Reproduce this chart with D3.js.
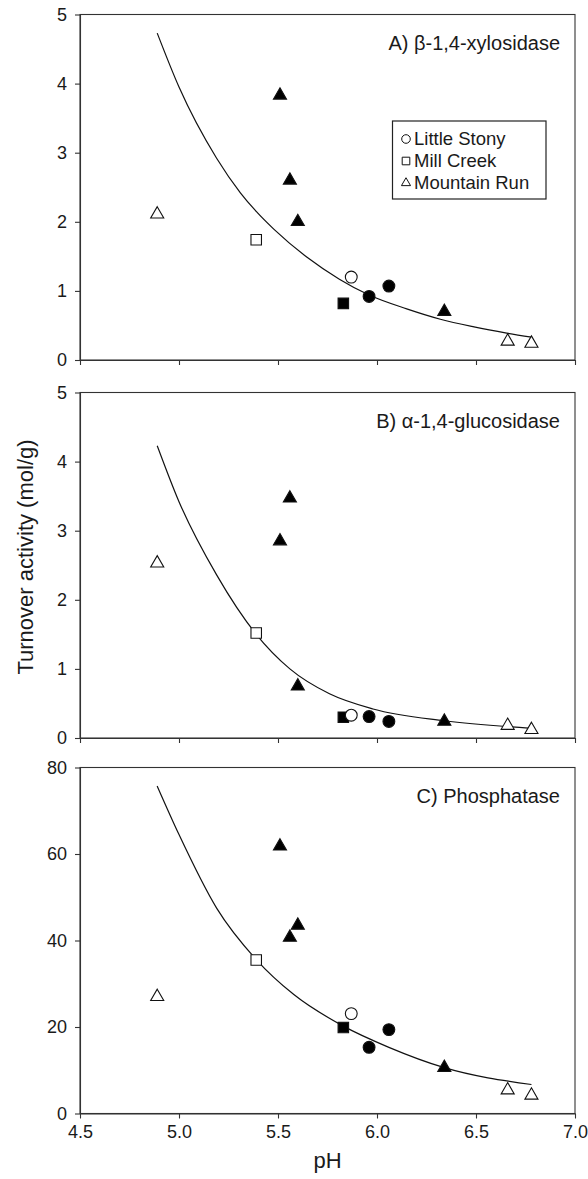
<!DOCTYPE html>
<head>
    <meta charset="utf-8">
    <title>Turnover activity vs pH</title>
    <style>
        body { margin: 0; background: #fff; }
        text { font-family: "Liberation Sans", Arial, Helvetica, sans-serif; fill: #1a1a1a; }
        .axis path, .axis line { stroke: #333; stroke-width: 1.1; }
    </style>
</head>

<body>

<svg width="588" height="1179"></svg>

<script src="https://d3js.org/d3.v7.min.js"></script>

<script>
    // samples, in the same order for every panel
    const sampleSites = ["Mountain Run", "Mill Creek", "Mountain Run", "Mountain Run", "Mountain Run", "Mill Creek",
                         "Little Stony", "Little Stony", "Little Stony", "Mountain Run", "Mountain Run", "Mountain Run"];
    const sampleFilled = [false, false, true, true, true, true, false, true, true, true, false, false];
    const samplePH = [4.89, 5.39, 5.51, 5.56, 5.60, 5.83, 5.87, 5.96, 6.06, 6.34, 6.66, 6.78];

    const xylosidase  = [2.11, 1.74, 3.83, 2.60, 2.00, 0.82, 1.20, 0.92, 1.07, 0.70, 0.27, 0.24];
    const glucosidase = [2.53, 1.52, 2.85, 3.47, 0.75, 0.30, 0.33, 0.31, 0.24, 0.24, 0.18, 0.12];
    const phosphatase = [27.0, 35.5, 61.8, 40.7, 43.5, 19.9, 23.1, 15.3, 19.4, 10.6, 5.4, 4.2];

    // fitted lines
    const fitA = [[4.89, 4.73], [5.00, 3.95], [5.19, 2.92], [5.31, 2.42], [5.39, 2.15], [5.48, 1.89], [5.645, 1.49],
                  [5.81, 1.17], [5.96, 0.94], [6.15, 0.74], [6.32, 0.59], [6.49, 0.48], [6.655, 0.39], [6.78, 0.33]];
    const fitB = [[4.89, 4.23], [5.00, 3.42], [5.19, 2.36], [5.39, 1.50], [5.56, 1.00], [5.76, 0.64],
                  [5.98, 0.42], [6.34, 0.25], [6.78, 0.14]];
    const fitC = [[4.89, 75.7], [5.00, 64.5], [5.19, 47.5], [5.39, 35.6], [5.58, 27.5], [5.83, 20.2],
                  [6.06, 15.3], [6.34, 10.6], [6.78, 6.7]];

    const xTicks = [4.5, 5.0, 5.5, 6.0, 6.5, 7.0];
    const yTicksAB = [0, 1, 2, 3, 4, 5];
    const yTicksC = [0, 20, 40, 60, 80];

    const sites = ["Little Stony", "Mill Creek", "Mountain Run"];
    const siteShape = { "Little Stony": d3.symbolCircle, "Mill Creek": d3.symbolSquare, "Mountain Run": d3.symbolTriangle };
    const siteSize = { "Little Stony": 110, "Mill Creek": 110, "Mountain Run": 74 };

    const svg = d3.select("svg");
    const x = d3.scaleLinear().domain([4.5, 7.0]).range([80, 575]);

    const panels = [
        { title: "A) \u03b2-1,4-xylosidase", values: xylosidase, fit: fitA, ticks: yTicksAB, max: 5, top: 14.5, bottom: 360, xLabels: false },
        { title: "B) \u03b1-1,4-glucosidase", values: glucosidase, fit: fitB, ticks: yTicksAB, max: 5, top: 392.5, bottom: 738, xLabels: false },
        { title: "C) Phosphatase", values: phosphatase, fit: fitC, ticks: yTicksC, max: 80, top: 767.5, bottom: 1113.5, xLabels: true }
    ];

    panels.forEach((p, pi) => {
        const y = d3.scaleLinear().domain([0, p.max]).range([p.bottom, p.top]);
        const g = svg.append("g");

        // frame
        g.append("rect")
            .attr("x", x.range()[0]).attr("y", p.top)
            .attr("width", x.range()[1] - x.range()[0]).attr("height", p.bottom - p.top)
            .attr("fill", "none").attr("stroke", "#333").attr("stroke-width", 1.1);

        g.append("g")
            .attr("class", "axis")
            .attr("transform", `translate(${x.range()[0]},0)`)
            .call(d3.axisLeft(y).tickValues(p.ticks).tickSize(5).tickSizeOuter(0).tickPadding(8).tickFormat(d3.format("d")))
            .call(a => a.selectAll("text").style("font-size", "18px"));

        g.append("g")
            .attr("class", "axis")
            .attr("transform", `translate(0,${p.bottom})`)
            .call(d3.axisBottom(x).tickValues(xTicks).tickSize(5).tickSizeOuter(0).tickPadding(7).tickFormat(p.xLabels ? d3.format(".1f") : ""))
            .call(a => a.selectAll("text").style("font-size", "18px"));

        // fitted curve
        g.append("path")
            .datum(p.fit)
            .attr("fill", "none")
            .attr("stroke", "#111")
            .attr("stroke-width", 1.2)
            .attr("d", d3.line().x(d => x(d[0])).y(d => y(d[1])).curve(d3.curveMonotoneX));

        // samples
        g.selectAll(".pt")
            .data(p.values.map((v, i) => ({ ph: samplePH[i], v, site: sampleSites[i], filled: sampleFilled[i] })))
            .join("path")
            .attr("class", "pt")
            .attr("transform", d => `translate(${x(d.ph)},${y(d.v)})`)
            .attr("d", d => d3.symbol(siteShape[d.site], siteSize[d.site])())
            .attr("fill", d => d.filled ? "#000" : "#fff")
            .attr("stroke", "#111")
            .attr("stroke-width", 1.1);

        g.append("text")
            .attr("x", 560)
            .attr("y", p.top + 35)
            .attr("text-anchor", "end")
            .style("font-size", "20px")
            .text(p.title);

        // legend only in the first panel
        if (pi === 0) {
            const lg = g.append("g");
            lg.append("rect")
                .attr("x", 392.5).attr("y", 121)
                .attr("width", 153.5).attr("height", 78)
                .attr("fill", "#fff").attr("stroke", "#222").attr("stroke-width", 1.2);
            const item = lg.selectAll(".item")
                .data(sites)
                .join("g")
                .attr("transform", (d, i) => `translate(406,${139 + i * 22})`);
            item.append("path")
                .attr("d", d => d3.symbol(siteShape[d], d === "Mountain Run" ? 36 : 58)())
                .attr("fill", "#fff")
                .attr("stroke", "#111")
                .attr("stroke-width", 1);
            item.append("text")
                .attr("x", 8)
                .attr("dy", "0.35em")
                .style("font-size", "18.5px")
                .text(d => d);
        }
    });

    svg.append("text")
        .attr("transform", "translate(33,557) rotate(-90)")
        .attr("text-anchor", "middle")
        .style("font-size", "22px")
        .text("Turnover activity (mol/g)");

    svg.append("text")
        .attr("x", 327.5)
        .attr("y", 1168)
        .attr("text-anchor", "middle")
        .style("font-size", "22px")
        .text("pH");
</script>

</body>
